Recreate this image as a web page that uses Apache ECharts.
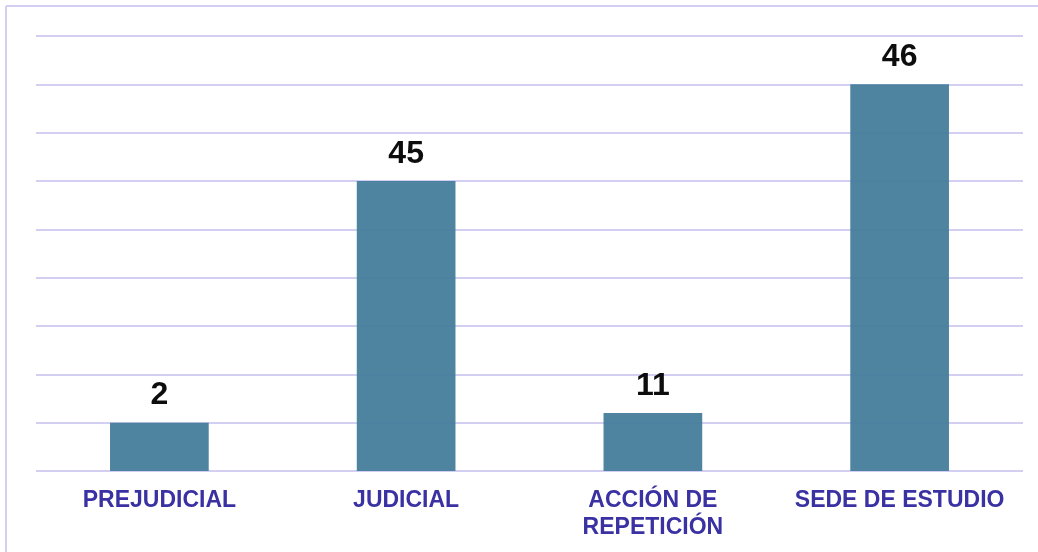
<!DOCTYPE html>
<html>
<head>
<meta charset="utf-8">
<script src="https://cdn.jsdelivr.net/npm/echarts@6/dist/echarts.min.js"></script>
<style>
  html, body { margin: 0; padding: 0; background: #fff; }
  #chart { width: 1038px; height: 552px; }
</style>
</head>
<body>
<div id="chart"></div>
<script>
// categorias del eje x
var categories = ['PREJUDICIAL', 'JUDICIAL', 'ACCIÓN DE\nREPETICIÓN', 'SEDE DE ESTUDIO'];
// valores rotulados encima de cada barra
var valueLabels = [2, 45, 11, 46];
// altura dibujada de cada barra (en divisiones de la rejilla, tal como aparece)
var barHeights = [1, 6, 1.2, 8];
// rejilla: 0..9, una linea por unidad
var axisMax = 9;
var axisStep = 1;

var chart = echarts.init(document.getElementById('chart'), null, { renderer: 'canvas' });

var option = {
  animation: false,
  backgroundColor: '#ffffff',
  textStyle: { fontFamily: 'Liberation Sans, Arial, sans-serif' },
  // marco lila arriba e izquierda
  graphic: [
    { type: 'line', shape: { x1: 6, y1: 6, x2: 1038, y2: 6 }, style: { stroke: '#d3cff2', lineWidth: 2 } },
    { type: 'line', shape: { x1: 6, y1: 6, x2: 6, y2: 552 }, style: { stroke: '#d3cff2', lineWidth: 2 } }
  ],
  grid: {
    left: 36,
    right: 15,
    top: 36,
    bottom: 81,
    containLabel: false
  },
  xAxis: {
    type: 'category',
    data: categories,
    axisLine: { show: false },
    axisTick: { show: false },
    axisLabel: {
      margin: 16,
      color: '#3a31a2',
      fontWeight: 'bold',
      fontSize: 23,
      lineHeight: 27,
      interval: 0
    }
  },
  yAxis: {
    type: 'value',
    min: 0,
    max: axisMax,
    interval: axisStep,
    axisLine: { show: false },
    axisTick: { show: false },
    axisLabel: { show: false },
    splitLine: {
      show: true,
      lineStyle: { color: '#d3cff2', width: 2 }
    }
  },
  series: [
    {
      type: 'bar',
      barWidth: '40%',
      z: 3,
      itemStyle: {
        color: '#457d9b',
        opacity: 0.95
      },
      label: {
        show: true,
        position: 'top',
        distance: 11,
        color: '#000000',
        fontWeight: 'bold',
        fontSize: 32,
        formatter: function (p) {
          return valueLabels[p.dataIndex];
        }
      },
      data: barHeights
    }
  ]
};

chart.setOption(option);
</script>
</body>
</html>
